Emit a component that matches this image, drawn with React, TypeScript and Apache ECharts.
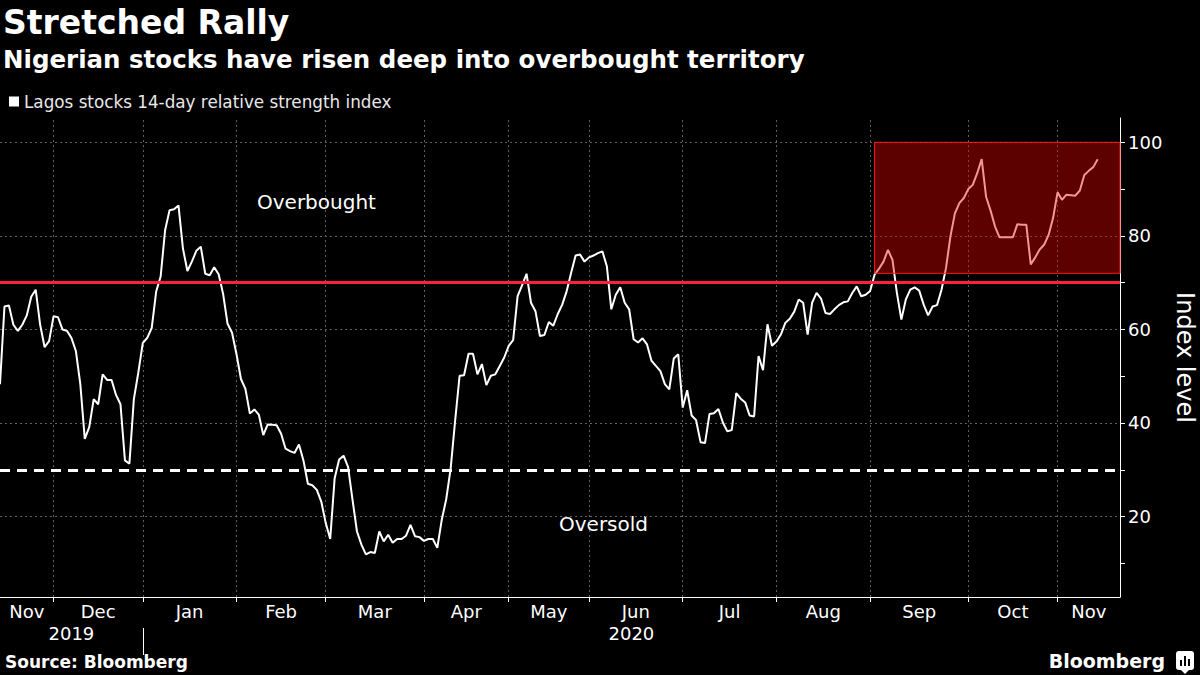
import React, { useEffect, useRef } from "react";
import * as echarts from "echarts";

// Lagos stocks 14-day RSI, one value per trading day (Nov 2019 - Nov 2020)
const rsiValues = [
  48.3, 64.9, 65.1, 61.0, 59.7, 61.0, 63.0, 67.0, 68.5, 61.0,
  56.2, 57.5, 62.8, 62.6, 60.0, 59.7, 58.2, 55.4, 48.3, 36.6,
  39.1, 45.1, 44.0, 50.4, 49.2, 49.2, 46.0, 44.0, 32.0, 31.3,
  45.1, 50.8, 57.1, 58.2, 60.3, 68.1, 71.3, 81.2, 85.5, 85.7,
  86.5, 77.3, 72.5, 74.5, 76.8, 77.7, 71.9, 71.6, 73.3, 71.8,
  67.6, 61.2, 59.3, 54.7, 49.4, 47.3, 42.0, 42.9, 41.8, 37.4,
  39.7, 39.6, 39.5, 37.7, 34.5, 34.0, 33.6, 35.4, 32.0, 27.0,
  26.7, 25.7, 23.2, 18.6, 15.2, 28.2, 32.2, 33.0, 30.6, 23.6,
  16.8, 14.0, 11.9, 12.4, 12.2, 16.8, 14.7, 16.1, 14.4, 15.2,
  15.2, 15.9, 18.2, 15.8, 15.6, 14.8, 15.2, 15.2, 13.3, 19.3,
  23.7, 30.3, 40.5, 50.1, 50.2, 54.8, 54.8, 50.4, 52.6, 48.1,
  50.1, 50.4, 52.2, 54.0, 56.5, 57.7, 67.1, 69.4, 71.9, 65.7,
  63.9, 58.6, 58.8, 61.6, 60.8, 63.3, 65.3, 68.2, 72.1, 75.8,
  76.0, 74.5, 75.4, 75.8, 76.3, 76.7, 73.5, 64.3, 67.4, 69.0,
  65.7, 64.3, 57.9, 57.2, 58.1, 56.8, 53.3, 52.2, 51.1, 48.3,
  47.2, 53.8, 54.7, 43.3, 47.0, 41.6, 40.6, 35.9, 35.7, 41.9,
  42.1, 43.0, 40.1, 38.2, 38.5, 46.4, 45.2, 44.4, 41.6, 41.4,
  54.3, 51.3, 61.1, 56.5, 57.4, 58.9, 61.4, 62.3, 63.8, 66.4,
  65.7, 58.9, 65.7, 67.8, 66.6, 63.5, 63.3, 64.3, 65.2, 65.8,
  66.0, 67.8, 69.2, 67.1, 67.4, 68.2, 71.7, 73.0, 74.5, 77.0,
  74.9, 67.8, 62.1, 66.4, 68.5, 69.0, 68.3, 65.3, 63.0, 64.9,
  65.2, 68.5, 73.1, 79.9, 84.8, 87.0, 88.1, 90.0, 90.9, 93.4,
  96.4, 88.3, 85.4, 82.0, 79.7, 79.7, 79.7, 79.7, 82.5, 82.4,
  82.4, 73.9, 75.4, 77.1, 78.1, 80.2, 83.8, 89.3, 87.7, 88.8,
  88.7, 88.6, 89.7, 93.0, 93.9, 94.7, 96.4,
];

// Trading-day index of the first session of each month (Dec 2019 .. Nov 2020)
const monthBoundaries = [12, 32, 53, 73, 95, 114, 132, 153, 174, 195, 217, 237];
const monthLabels = ["Nov", "Dec", "Jan", "Feb", "Mar", "Apr", "May", "Jun", "Jul", "Aug", "Sep", "Oct", "Nov"];
const monthLabelCenters = [6, 22, 42.5, 63, 84, 104.5, 123, 142.5, 163.5, 184.5, 206, 227, 244];
const yearLabels = ["2019", "2020"];
const yearLabelCenters = [16, 141.5];
const yearBoundaries = [32];
const axisEndIndex = 251;

const yMin = 2.8;
const yMax = 105.2;
const yTickValues = [10, 20, 30, 40, 50, 60, 70, 80, 90, 100];
const yLabelValues = [20, 40, 60, 80, 100];

const overboughtLevel = 70;
const oversoldLevel = 30;
const highlightStartIndex = 196;
const highlightLow = 72;
const highlightHigh = 100;

const SERIES_NAME = "Lagos stocks 14-day relative strength index";
const FONT = "DejaVu Sans";

function lookup(values: number[], labels: string[], v: number): string {
  for (let i = 0; i < values.length; i++) {
    if (Math.abs(values[i] - v) < 0.01) return labels[i];
  }
  return "";
}

export default function App() {
  const ref = useRef<HTMLDivElement>(null);

  useEffect(() => {
    if (!ref.current) return;
    const chart = echarts.init(ref.current, null, { renderer: "svg" });
    const pairs = rsiValues.map((v, i) => [i, v]);

    const option: any = {
      animation: false,
      backgroundColor: "#000",
      textStyle: { fontFamily: FONT },
      title: [
        {
          text: "Stretched Rally",
          left: 3,
          top: 4,
          padding: 0,
          textStyle: { color: "#fff", fontSize: 33, fontWeight: "bold", fontFamily: FONT, lineHeight: 36 },
        },
        {
          text: "Nigerian stocks have risen deep into overbought territory",
          left: 3,
          top: 47,
          padding: 0,
          textStyle: { color: "#fff", fontSize: 24.5, fontWeight: "bold", fontFamily: FONT },
        },
        {
          text: "Source: Bloomberg",
          left: 5,
          top: 653,
          padding: 0,
          textStyle: { color: "#fff", fontSize: 17, fontWeight: "bold", fontFamily: FONT },
        },
      ],
      legend: {
        data: [SERIES_NAME],
        left: 9,
        top: 93,
        padding: 0,
        icon: "rect",
        itemWidth: 10,
        itemHeight: 10,
        textStyle: { color: "#e8e8e8", fontSize: 16.8, fontFamily: FONT },
        selectedMode: false,
      },
      grid: { left: 0, right: 80, top: 118, bottom: 78, containLabel: false, outerBoundsMode: "none" },
      xAxis: [
        {
          type: "value",
          min: 0,
          max: axisEndIndex,
          position: "bottom",
          axisLine: { show: true, onZero: false, lineStyle: { color: "#fff", width: 1 } },
          axisTick: { show: true, customValues: monthBoundaries, length: 5, lineStyle: { color: "#fff" } },
          axisLabel: {
            show: true,
            customValues: monthLabelCenters,
            formatter: (v: number) => lookup(monthLabelCenters, monthLabels, v),
            color: "#fff",
            fontSize: 18,
            margin: 5,
            fontFamily: FONT,
          },
          splitLine: { show: false },
        },
        {
          type: "value",
          min: 0,
          max: axisEndIndex,
          position: "bottom",
          offset: 22,
          axisLine: { show: false, onZero: false },
          axisTick: { show: false },
          axisLabel: {
            show: true,
            customValues: yearLabelCenters,
            formatter: (v: number) => lookup(yearLabelCenters, yearLabels, v),
            color: "#fff",
            fontSize: 18,
            margin: 5,
            fontFamily: FONT,
          },
          splitLine: { show: false },
        },
        {
          type: "value",
          min: 0,
          max: axisEndIndex,
          position: "bottom",
          offset: 31,
          axisLine: { show: false, onZero: false },
          axisTick: { show: true, customValues: yearBoundaries, length: 27, lineStyle: { color: "#fff" } },
          axisLabel: { show: false },
          splitLine: { show: false },
        },
      ],
      yAxis: {
        type: "value",
        position: "right",
        min: yMin,
        max: yMax,
        name: "Index level",
        nameLocation: "middle",
        nameRotate: -90,
        nameGap: 52,
        nameTextStyle: { color: "#fff", fontSize: 24, fontFamily: FONT },
        axisLine: { show: true, onZero: false, lineStyle: { color: "#fff", width: 1 } },
        axisTick: { show: true, customValues: yTickValues, length: 5, lineStyle: { color: "#fff" } },
        axisLabel: {
          show: true,
          customValues: yLabelValues,
          color: "#fff",
          fontSize: 18,
          margin: 8,
          fontFamily: FONT,
        },
        splitLine: { show: false },
      },
      series: [
        {
          name: "gridlines",
          type: "line",
          data: pairs,
          symbol: "none",
          silent: true,
          z: 1,
          lineStyle: { opacity: 0, width: 0 },
          markLine: {
            z: 1,
            silent: true,
            symbol: ["none", "none"],
            label: { show: false },
            lineStyle: { color: "#606060", width: 1, type: [2, 3] },
            data: [
              ...monthBoundaries.map((v) => ({ xAxis: v })),
              ...yLabelValues.map((v) => ({ yAxis: v })),
            ],
          },
        },
        {
          name: SERIES_NAME,
          type: "line",
          data: pairs,
          symbol: "none",
          showSymbol: false,
          z: 3,
          itemStyle: { color: "#fff" },
          lineStyle: { color: "#fff", width: 2 },
          markLine: {
            silent: true,
            symbol: ["none", "none"],
            label: { show: false },
            data: [
              { yAxis: overboughtLevel, lineStyle: { color: "#ff2040", width: 3, type: "solid" } },
              { yAxis: oversoldLevel, lineStyle: { color: "#fff", width: 3, type: [10, 7] } },
            ],
          },
          markArea: {
            z: 10,
            silent: true,
            itemStyle: { color: "rgba(224,0,0,0.41)", borderColor: "#ff1a1a", borderWidth: 1 },
            label: { show: false },
            data: [
              [
                { xAxis: highlightStartIndex, yAxis: highlightHigh },
                { xAxis: axisEndIndex, yAxis: highlightLow },
              ],
            ],
          },
        },
      ],
      graphic: [
        {
          type: "text",
          left: 257,
          top: 192,
          style: { text: "Overbought", fill: "#fff", font: `20px "${FONT}"` },
        },
        {
          type: "text",
          left: 559,
          top: 514,
          style: { text: "Oversold", fill: "#fff", font: `20px "${FONT}"` },
        },
        {
          type: "text",
          right: 35,
          top: 651,
          style: { text: "Bloomberg", fill: "#fff", font: `bold 19px "${FONT}"` },
        },
        {
          type: "group",
          right: 6,
          top: 651,
          children: [
            { type: "rect", shape: { x: 0, y: 0, width: 18, height: 19, r: 3 }, style: { fill: "#fff" } },
            { type: "polygon", shape: { points: [[5, 19], [9, 23], [13, 19]] }, style: { fill: "#fff" } },
            { type: "rect", shape: { x: 4, y: 9, width: 2, height: 6 }, style: { fill: "#000" } },
            { type: "rect", shape: { x: 8, y: 5, width: 2, height: 10 }, style: { fill: "#000" } },
            { type: "rect", shape: { x: 12, y: 8, width: 2, height: 7 }, style: { fill: "#000" } },
          ],
        },
      ],
    };

    chart.setOption(option);
    return () => chart.dispose();
  }, []);

  return (
    <div
      ref={ref}
      style={{ position: "absolute", left: 0, top: 0, width: 1200, height: 675, background: "#000" }}
    />
  );
}
